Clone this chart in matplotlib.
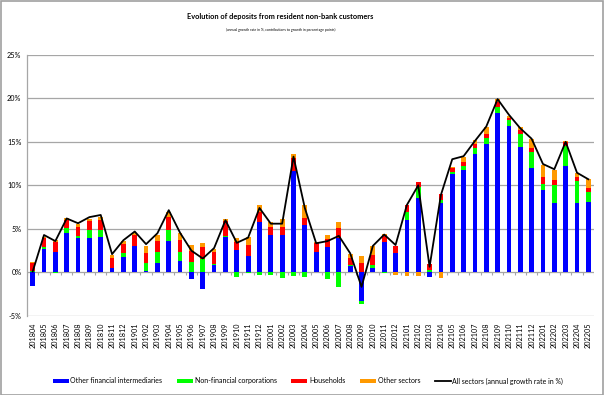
import numpy as np
import matplotlib
matplotlib.use('Agg')
import matplotlib.pyplot as plt
from matplotlib.patches import Rectangle

plt.rcParams['font.family'] = ['Lato', 'DejaVu Sans']

months = ['201804', '201805', '201806', '201807', '201808', '201809', '201810', '201811', '201812',
          '201901', '201902', '201903', '201904', '201905', '201906', '201907', '201908', '201909',
          '201910', '201911', '201912', '202001', '202002', '202003', '202004', '202005', '202006',
          '202007', '202008', '202009', '202010', '202011', '202012', '202101', '202102', '202103',
          '202104', '202105', '202106', '202107', '202108', '202109', '202110', '202111', '202112',
          '202201', '202202', '202203', '202204', '202205']

# contributions to growth (percentage points)
other_fin = [-1.5, 2.65, 2.3, 4.55, 3.9, 4.0, 4.1, 0.5, 1.75,
             3.0, 0.15, 1.1, 3.65, 1.35, -0.7, -1.85, 0.9, 4.1,
             2.55, 1.9, 5.8, 4.35, 4.3, 11.7, 5.4, 2.4, 2.95,
             3.9, 0.75, -3.3, 0.55, 3.5, 2.2, 6.0, 8.5, -0.5,
             7.95, 11.25, 11.75, 13.55, 14.8, 18.35, 16.8, 14.45, 12.0,
             9.45, 8.0, 12.2, 7.95, 8.05]
non_fin = [0.2, 0.3, -0.1, 0.5, 0.3, 0.9, 0.75, 0.05, 0.5,
           0.05, 0.9, 1.2, 1.2, 1.0, 1.2, 1.5, 0.1, 0.05,
           -0.55, -0.05, -0.25, -0.35, -0.6, -0.4, -0.5, 0.0, -0.8,
           -1.65, 0.05, -0.3, 0.3, -0.05, 0.0, 0.95, 1.35, 0.25,
           0.35, 0.25, 0.45, 0.75, 0.65, 0.7, 0.7, 1.4, 1.85,
           0.75, 2.0, 2.3, 2.5, 1.15]
households = [0.9, 0.95, 1.2, 0.95, 1.05, 0.95, 1.15, 1.1, 1.05,
              1.2, 1.2, 1.3, 1.55, 1.4, 1.25, 1.4, 1.4, 1.7,
              0.95, 1.2, 1.1, 0.9, 0.95, 1.4, 0.85, 0.95, 0.9,
              1.25, 0.85, 1.05, 1.2, 0.75, 0.85, 0.75, 0.55, 0.7,
              0.65, 0.45, 0.5, 0.4, 0.5, 0.55, 0.25, 0.45, 0.45,
              0.75, 0.6, 0.5, 0.55, 0.55]
other_sec = [0.05, 0.2, 0.2, 0.2, 0.3, 0.25, 0.35, 0.35, 0.3,
             0.3, 0.8, 0.7, 0.55, 0.8, 0.7, 0.5, 0.3, 0.3,
             0.45, 0.95, 0.8, 0.55, 0.85, 0.45, 1.55, 0.1, 0.5,
             0.6, 0.5, 0.85, 1.0, 0.2, -0.25, -0.4, -0.4, -0.05,
             -0.6, 0.2, 0.5, 0.5, 0.7, 0.3, 0.25, 0.35, 1.05,
             1.35, 1.15, 0.1, 0.45, 0.95]
# annual growth rate, all sectors (%)
all_sectors = [0.1, 4.3, 3.6, 6.2, 5.65, 6.35, 6.6, 2.1, 3.7,
               4.7, 3.25, 4.5, 7.15, 4.55, 2.5, 1.6, 2.8, 6.0,
               3.4, 4.0, 7.4, 5.6, 5.6, 13.3, 7.4, 3.35, 3.6,
               4.2, 2.2, -1.65, 3.05, 4.35, 3.15, 7.75, 10.0, 0.65,
               8.9, 13.0, 13.35, 15.1, 16.75, 19.9, 18.1, 16.55, 15.35,
               12.45, 11.85, 15.0, 11.45, 10.7]

series = [('Other financial intermediaries', other_fin, '#0000FF'),
          ('Non-financial corporations', non_fin, '#00FF00'),
          ('Households', households, '#FF0000'),
          ('Other sectors', other_sec, '#FF9900')]

W, H = 604, 395
fig = plt.figure(figsize=(W / 100, H / 100), dpi=100)
ax = fig.add_axes([27 / W, 1 - 316 / H, (594 - 27) / W, (316 - 54.7) / H])

grid_col = '#A6A6A6'
x = np.arange(len(months))
pos_base = np.zeros(len(months))
neg_base = np.zeros(len(months))
for name, vals, col in series:
  v = np.array(vals)
  base = np.where(v >= 0, pos_base, neg_base)
  ax.bar(x, v, bottom=base, width=0.42, color=col, label=name, zorder=3)
  pos_base += np.clip(v, 0, None)
  neg_base += np.clip(v, None, 0)

ax.plot(x, all_sectors, color='black', lw=1.3, zorder=4,
        label='All sectors (annual growth rate in %)')

ax.set_xlim(-0.5, len(months) - 0.5)
ax.set_ylim(-5, 25)
ax.set_yticks(np.arange(-5, 26, 5))
ax.set_yticklabels([f'{v}%' for v in range(-5, 26, 5)])
ax.yaxis.grid(True, color=grid_col, lw=0.9, zorder=0)
ax.set_xticks(x)
ax.set_xticklabels(months, rotation=90)
ax.tick_params(axis='x', length=0, pad=4.5, labelsize=5.2)
ax.tick_params(axis='y', length=0, pad=4, labelsize=5.2)
for s in ['top', 'right', 'bottom']:
  ax.spines[s].set_visible(False)
ax.spines['left'].set_color(grid_col)
ax.spines['left'].set_linewidth(0.9)
# category tick marks on the zero line
ax.vlines(np.arange(-0.5, len(months), 1), -0.35, 0, color=grid_col, lw=0.8, zorder=2)

fig.text(0.464, 1 - 17 / H, 'Evolution of deposits from resident non-bank customers',
         ha='center', va='center', fontsize=5.3, fontweight='bold')
fig.text(0.464, 1 - 29.5 / H, '(annual growth rate in %, contributions to growth in percentage points)',
         ha='center', va='center', fontsize=2.5)

handles, labels = ax.get_legend_handles_labels()
order = [1, 2, 3, 4, 0]
fig.legend([handles[i] for i in order], [labels[i] for i in order], loc='center',
           bbox_to_anchor=(0.51, 1 - 381 / H), ncol=5, frameon=False, fontsize=5.0,
           handlelength=2.3, handleheight=0.45, handletextpad=0.25, columnspacing=2.1)

fig.patches.append(Rectangle((0.001, 0.001), 0.997, 0.997, transform=fig.transFigure,
                             fill=False, edgecolor='#A0A0A0', lw=1.2))

fig.savefig('out.png', dpi=100)
